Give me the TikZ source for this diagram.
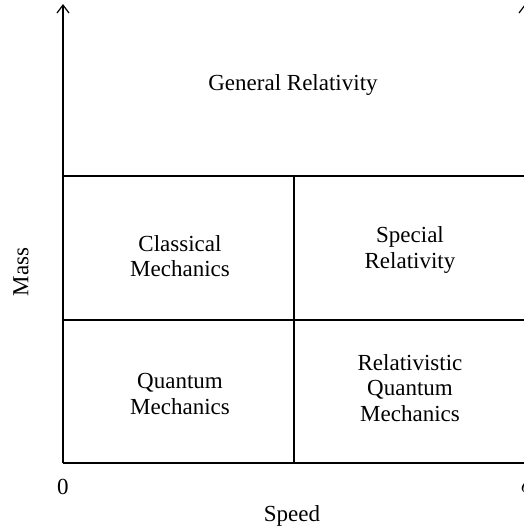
\documentclass[tikz,border=0pt]{standalone}
\usepackage{fontspec}
\setmainfont{Liberation Serif}
\usetikzlibrary{arrows.meta}
\begin{document}
\begin{tikzpicture}[x=0.5pt,y=-0.5pt,line width=0.6pt,>={Straight Barb[length=4pt,width=6pt]},
  lbl/.style={align=center,font=\fontsize{11.5}{12.8}\selectfont}]
\clip (0,0) rectangle (524,531);
% axes
\draw[->] (63,463)--(63,4);
\draw[->] (525,463)--(525,4);
\draw (63,463)--(525,463);
% regions
\draw (63,176)--(525,176);
\draw (63,320)--(525,320);
\draw (294,176)--(294,463);
\node[lbl] (gr) at (293,85) {General Relativity};
\node[lbl] (cm) at (180,256) {Classical\\Mechanics};
\node[lbl] (sr) at (410,250) {Special\\Relativity};
\node[lbl] (qm) at (180,394) {Quantum\\Mechanics};
\node[lbl] (rqm) at (410,388) {Relativistic\\Quantum\\Mechanics};
% axis labels
\node[lbl] (zero) at (63,487) {0};
\node[lbl] (cval) at (526,487) {$c$};
\node[lbl] (speed) at (292,516) {Speed};
\node[lbl,rotate=90] (mass) at (21,272) {Mass};
\end{tikzpicture}
\end{document}
